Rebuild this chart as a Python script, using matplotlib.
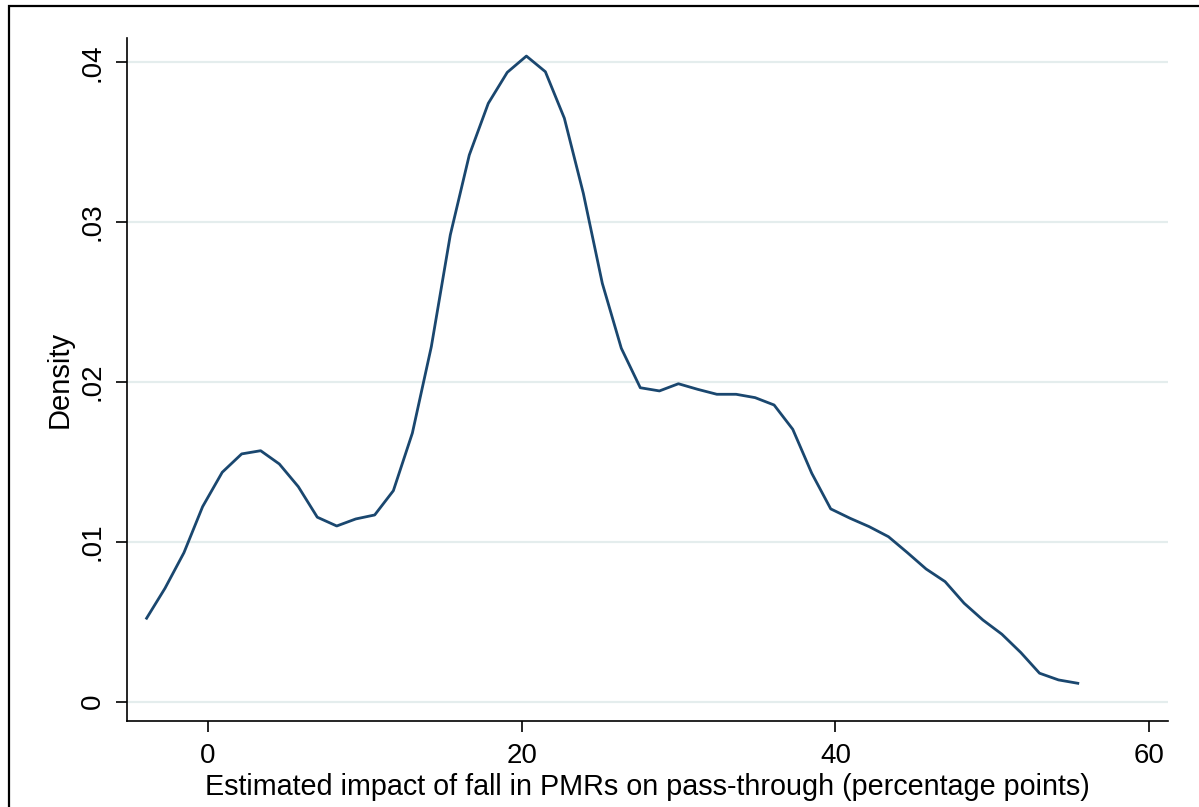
import matplotlib
matplotlib.use("Agg")
import matplotlib.pyplot as plt
from matplotlib.patches import Rectangle

x_values = [-3.91, -2.74, -1.53, -0.34, 0.91, 2.15, 3.36, 4.55, 5.76, 6.97,
            8.21, 9.42, 10.63, 11.82, 13.03, 14.24, 15.45, 16.66, 17.87, 19.08,
            20.30, 21.51, 22.72, 23.93, 25.14, 26.35, 27.56, 28.78, 29.99, 31.22,
            32.44, 33.67, 34.88, 36.09, 37.28, 38.49, 39.70, 40.94, 42.15, 43.38,
            44.59, 45.78, 46.99, 48.20, 49.40, 50.61, 51.82, 53.01, 54.22, 55.45]
density = [0.00522, 0.00709, 0.00932, 0.01220, 0.01435, 0.01550, 0.01570, 0.01487, 0.01345, 0.01154,
           0.01099, 0.01143, 0.01168, 0.01320, 0.01680, 0.02221, 0.02920, 0.03420, 0.03743, 0.03937,
           0.04039, 0.03941, 0.03650, 0.03180, 0.02617, 0.02211, 0.01964, 0.01944, 0.01989, 0.01954,
           0.01923, 0.01923, 0.01902, 0.01856, 0.01704, 0.01429, 0.01206, 0.01147, 0.01095, 0.01032,
           0.00932, 0.00830, 0.00751, 0.00616, 0.00511, 0.00422, 0.00307, 0.00178, 0.00136, 0.00115]

x_ticks = [0, 20, 40, 60]
x_tick_labels = ["0", "20", "40", "60"]
y_ticks = [0, 0.01, 0.02, 0.03, 0.04]
y_tick_labels = ["0", ".01", ".02", ".03", ".04"]
x_label = "Estimated impact of fall in PMRs on pass-through (percentage points)"
y_label = "Density"

plt.rcParams['font.family'] = ['Liberation Sans', 'DejaVu Sans']

fig = plt.figure(figsize=(11.99, 8.07), dpi=100)
W, H = 1199, 807
ax = fig.add_axes([127 / W, (H - 721) / H, (1168 - 127) / W, (721 - 38) / H])

for yt in y_ticks:
    ax.axhline(yt, color='#e4eded', lw=1.6, zorder=1)

ax.plot(x_values, density, color='#1a476f', lw=2.0, zorder=3)

ax.set_xlim(-5.16, 61.2)
ax.set_ylim(-0.00121, 0.04152)

for s in ['top', 'right']:
    ax.spines[s].set_visible(False)
for s in ['left', 'bottom']:
    ax.spines[s].set_linewidth(1.2)
    ax.spines[s].set_color('black')

ax.set_xticks(x_ticks)
ax.set_xticklabels(x_tick_labels, fontsize=20)
ax.set_yticks(y_ticks)
ax.set_yticklabels(y_tick_labels, fontsize=20, rotation=90, va='center')
ax.tick_params(axis='both', length=8, width=1.2, direction='out', pad=7.5)

ax.set_xlabel(x_label, fontsize=20.7, va='center', ha='center')
ax.xaxis.set_label_coords(0.5, (721 - 787) / 683)
ax.set_ylabel(y_label, fontsize=21, va='center', ha='center')
ax.yaxis.set_label_coords((60 - 127) / 1041, 0.5)

fig.patches.append(Rectangle((9 / W, -0.1), 1.2, (H - 6) / H + 0.1, transform=fig.transFigure,
                             fill=False, edgecolor='black', lw=1.6, zorder=10))

fig.savefig("out.png", dpi=100, facecolor='white')
